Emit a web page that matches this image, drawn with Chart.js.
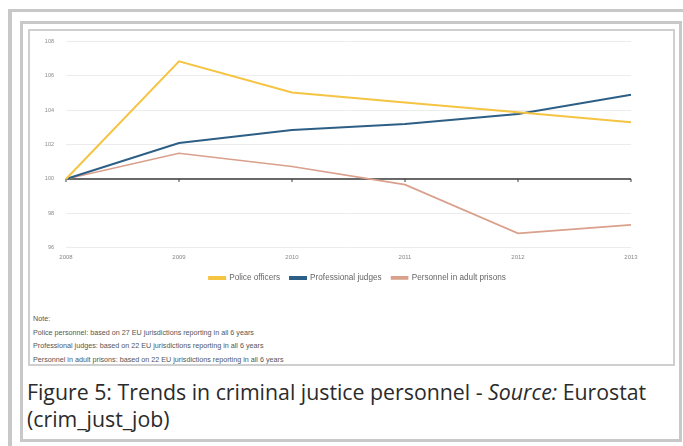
<!DOCTYPE html>
<html>
<head>
<meta charset="utf-8">
<script src="https://cdn.jsdelivr.net/npm/chart.js@4"></script>
<style>
  body { margin: 0; background: #fff; width: 683px; height: 446px; overflow: hidden; position: relative; font-family: "Open Sans", sans-serif; }
  .frame-outer { position: absolute; left: 8px; top: 9px; width: 700px; height: 460px; border-left: 4px solid #c8c8c8; border-top: 3px solid #c8c8c8; }
  .frame-fig { position: absolute; left: 20px; top: 21px; width: 656px; height: 415px; border: 3px solid #c8c8c8; background: #fff; }
  .frame-img { position: absolute; left: 28px; top: 29px; width: 643px; height: 333px; border: 2px solid #cfcfcf; background: #fff; }
  #wrap { position: absolute; left: 30px; top: 26px; width: 643px; height: 268px; }
  .notes { position: absolute; left: 33px; top: 312px; font-family: "Liberation Sans", Arial, sans-serif; font-size: 7.2px; color: #555; line-height: 13.5px; }
  .caption { position: absolute; left: 27px; top: 378px; font-size: 21.3px; line-height: 27px; color: #2b2b2b; width: 645px; }
</style>
</head>
<body>
<div class="frame-outer"></div>
<div class="frame-fig"></div>
<div class="frame-img"></div>
<div id="wrap"><canvas id="chart"></canvas></div>
<div class="notes">
  <div>Note:</div>
  <div>Police personnel: based on 27 EU jurisdictions reporting in all 6 years</div>
  <div>Professional judges: based on 22 EU jurisdictions reporting in all 6 years</div>
  <div>Personnel in adult prisons: based on 22 EU jurisdictions reporting in all 6 years</div>
</div>
<div class="caption">Figure 5: Trends in criminal justice personnel - <i>Source:</i> Eurostat (crim_just_job)</div>
<script>
'use strict';

// ── Data (index, 2008 = 100) ─────────────────
const YEARS     = ['2008', '2009', '2010', '2011', '2012', '2013'];
const POLICE    = [100, 106.84, 105.03, 104.45, 103.87, 103.29];
const JUDGES    = [100, 102.09, 102.85, 103.2, 103.78, 104.9];
const PRISONS   = [100, 101.49, 100.72, 99.67, 96.84, 97.33];
const Y_TICKS   = [96, 98, 100, 102, 104, 106, 108];
const BASE_LINE = 100;

// ── Base line at 100 with year ticks ─────────
const baseLinePlugin = {
  id: 'baseLine',
  beforeDatasetsDraw(chart) {
    const { ctx, chartArea, scales } = chart;
    const y = scales.y.getPixelForValue(BASE_LINE);
    ctx.save();
    ctx.strokeStyle = '#3a3a3a';
    ctx.lineWidth = 1.5;
    ctx.beginPath();
    ctx.moveTo(chartArea.left, y);
    ctx.lineTo(chartArea.right, y);
    ctx.stroke();
    ctx.lineWidth = 1;
    YEARS.forEach((_, i) => {
      const x = scales.x.getPixelForValue(i);
      ctx.beginPath();
      ctx.moveTo(x, y);
      ctx.lineTo(x, y + 3);
      ctx.stroke();
    });
    ctx.restore();
  }
};

new Chart(document.getElementById('chart'), {
  type: 'line',
  data: {
    labels: YEARS,
    datasets: [
      { label: 'Police officers', data: POLICE, borderColor: '#f6c443', backgroundColor: '#f6c443', borderWidth: 2 },
      { label: 'Professional judges', data: JUDGES, borderColor: '#2d5f86', backgroundColor: '#2d5f86', borderWidth: 2 },
      { label: 'Personnel in adult prisons', data: PRISONS, borderColor: '#d9a08c', backgroundColor: '#d9a08c', borderWidth: 1.6 }
    ]
  },
  options: {
    responsive: true, maintainAspectRatio: false, animation: false,
    elements: { point: { radius: 0 }, line: { tension: 0 } },
    layout: { padding: { top: 0, right: 0, bottom: 2, left: 12 } },
    plugins: {
      tooltip: { enabled: false },
      legend: {
        position: 'bottom',
        labels: {
          boxWidth: 16, boxHeight: 2, padding: 10,
          color: '#666',
          font: { family: 'Liberation Sans', size: 8.2 }
        }
      }
    },
    scales: {
      x: {
        offset: false,
        grid: { display: false, drawTicks: false },
        border: { display: false },
        ticks: { color: '#888', font: { family: 'Liberation Sans', size: 6 }, padding: 6, maxRotation: 0 },
        afterFit: s => { s.height = 16; }
      },
      y: {
        min: 96, max: 108,
        afterBuildTicks: s => { s.ticks = Y_TICKS.map(v => ({ value: v })); },
        grid: { color: '#ececec', lineWidth: 1, drawTicks: false },
        border: { display: false },
        ticks: { color: '#888', font: { family: 'Liberation Sans', size: 5.5 }, padding: 12 },
        afterFit: s => { s.width = 24; }
      },
      // empty right margin so the legend centres on the whole canvas
      yRight: {
        position: 'right',
        grid: { display: false },
        border: { display: false },
        ticks: { display: false },
        afterFit: s => { s.width = 42; }
      }
    }
  },
  plugins: [baseLinePlugin]
});
</script>
</body>
</html>
